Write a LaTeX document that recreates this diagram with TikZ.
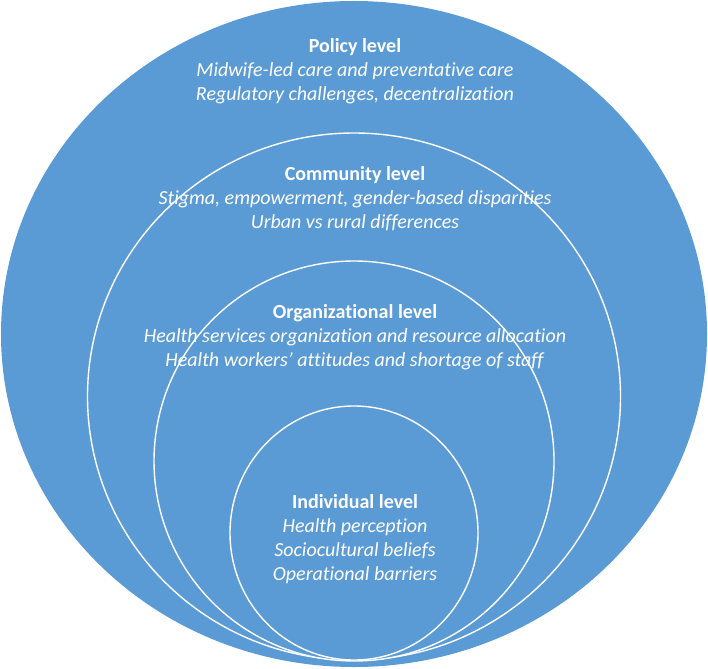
\documentclass[tikz,border=0pt]{standalone}
\usepackage{fontspec}
\setsansfont{Carlito}[Ligatures=NoCommon]
\usetikzlibrary{shapes.geometric}
\definecolor{LevelBlue}{HTML}{5B9BD5}
\definecolor{LevelRing}{HTML}{FFFFFF}

\begin{document}
\begin{tikzpicture}[
    x=1pt, y=-1pt,
    font=\sffamily,
    ring/.style={
        ellipse,
        draw=LevelRing,
        line width=1.4pt,
        fill=LevelBlue,
        inner sep=0pt
    },
    level text/.style={
        align=center,
        text=white,
        inner sep=0pt,
        font=\sffamily\fontsize{20}{24}\selectfont
    }
]
    \useasboundingbox (0,0) rectangle (708,668);

    % nested levels, outermost first
    \node[ring, draw=none, minimum width=706pt, minimum height=666pt]
        (policy) at (354,334) {};
    \node[ring, minimum width=533pt, minimum height=527pt]
        (community) at (354,396.5) {};
    \node[ring, minimum width=400pt, minimum height=400pt]
        (organizational) at (354,461) {};
    \node[ring, minimum width=248pt, minimum height=254pt]
        (individual) at (354,533) {};

    \node[level text] (policy text) at (355,71)
        {\textbf{Policy level}\\
         \textit{Midwife-led care and preventative care}\\
         \textit{Regulatory challenges, decentralization}};
    \node[level text] (community text) at (355,198.5)
        {\textbf{Community level}\\
         \textit{Stigma, empowerment, gender-based disparities}\\
         \textit{Urban vs rural differences}};
    \node[level text] (organizational text) at (355,337.5)
        {\textbf{Organizational level}\\
         \textit{Health services organization and resource allocation}\\
         \textit{Health workers' attitudes and shortage of staff}};
    \node[level text] (individual text) at (355,539)
        {\textbf{Individual level}\\
         \textit{Health perception}\\
         \textit{Sociocultural beliefs}\\
         \textit{Operational barriers}};
\end{tikzpicture}
\end{document}
